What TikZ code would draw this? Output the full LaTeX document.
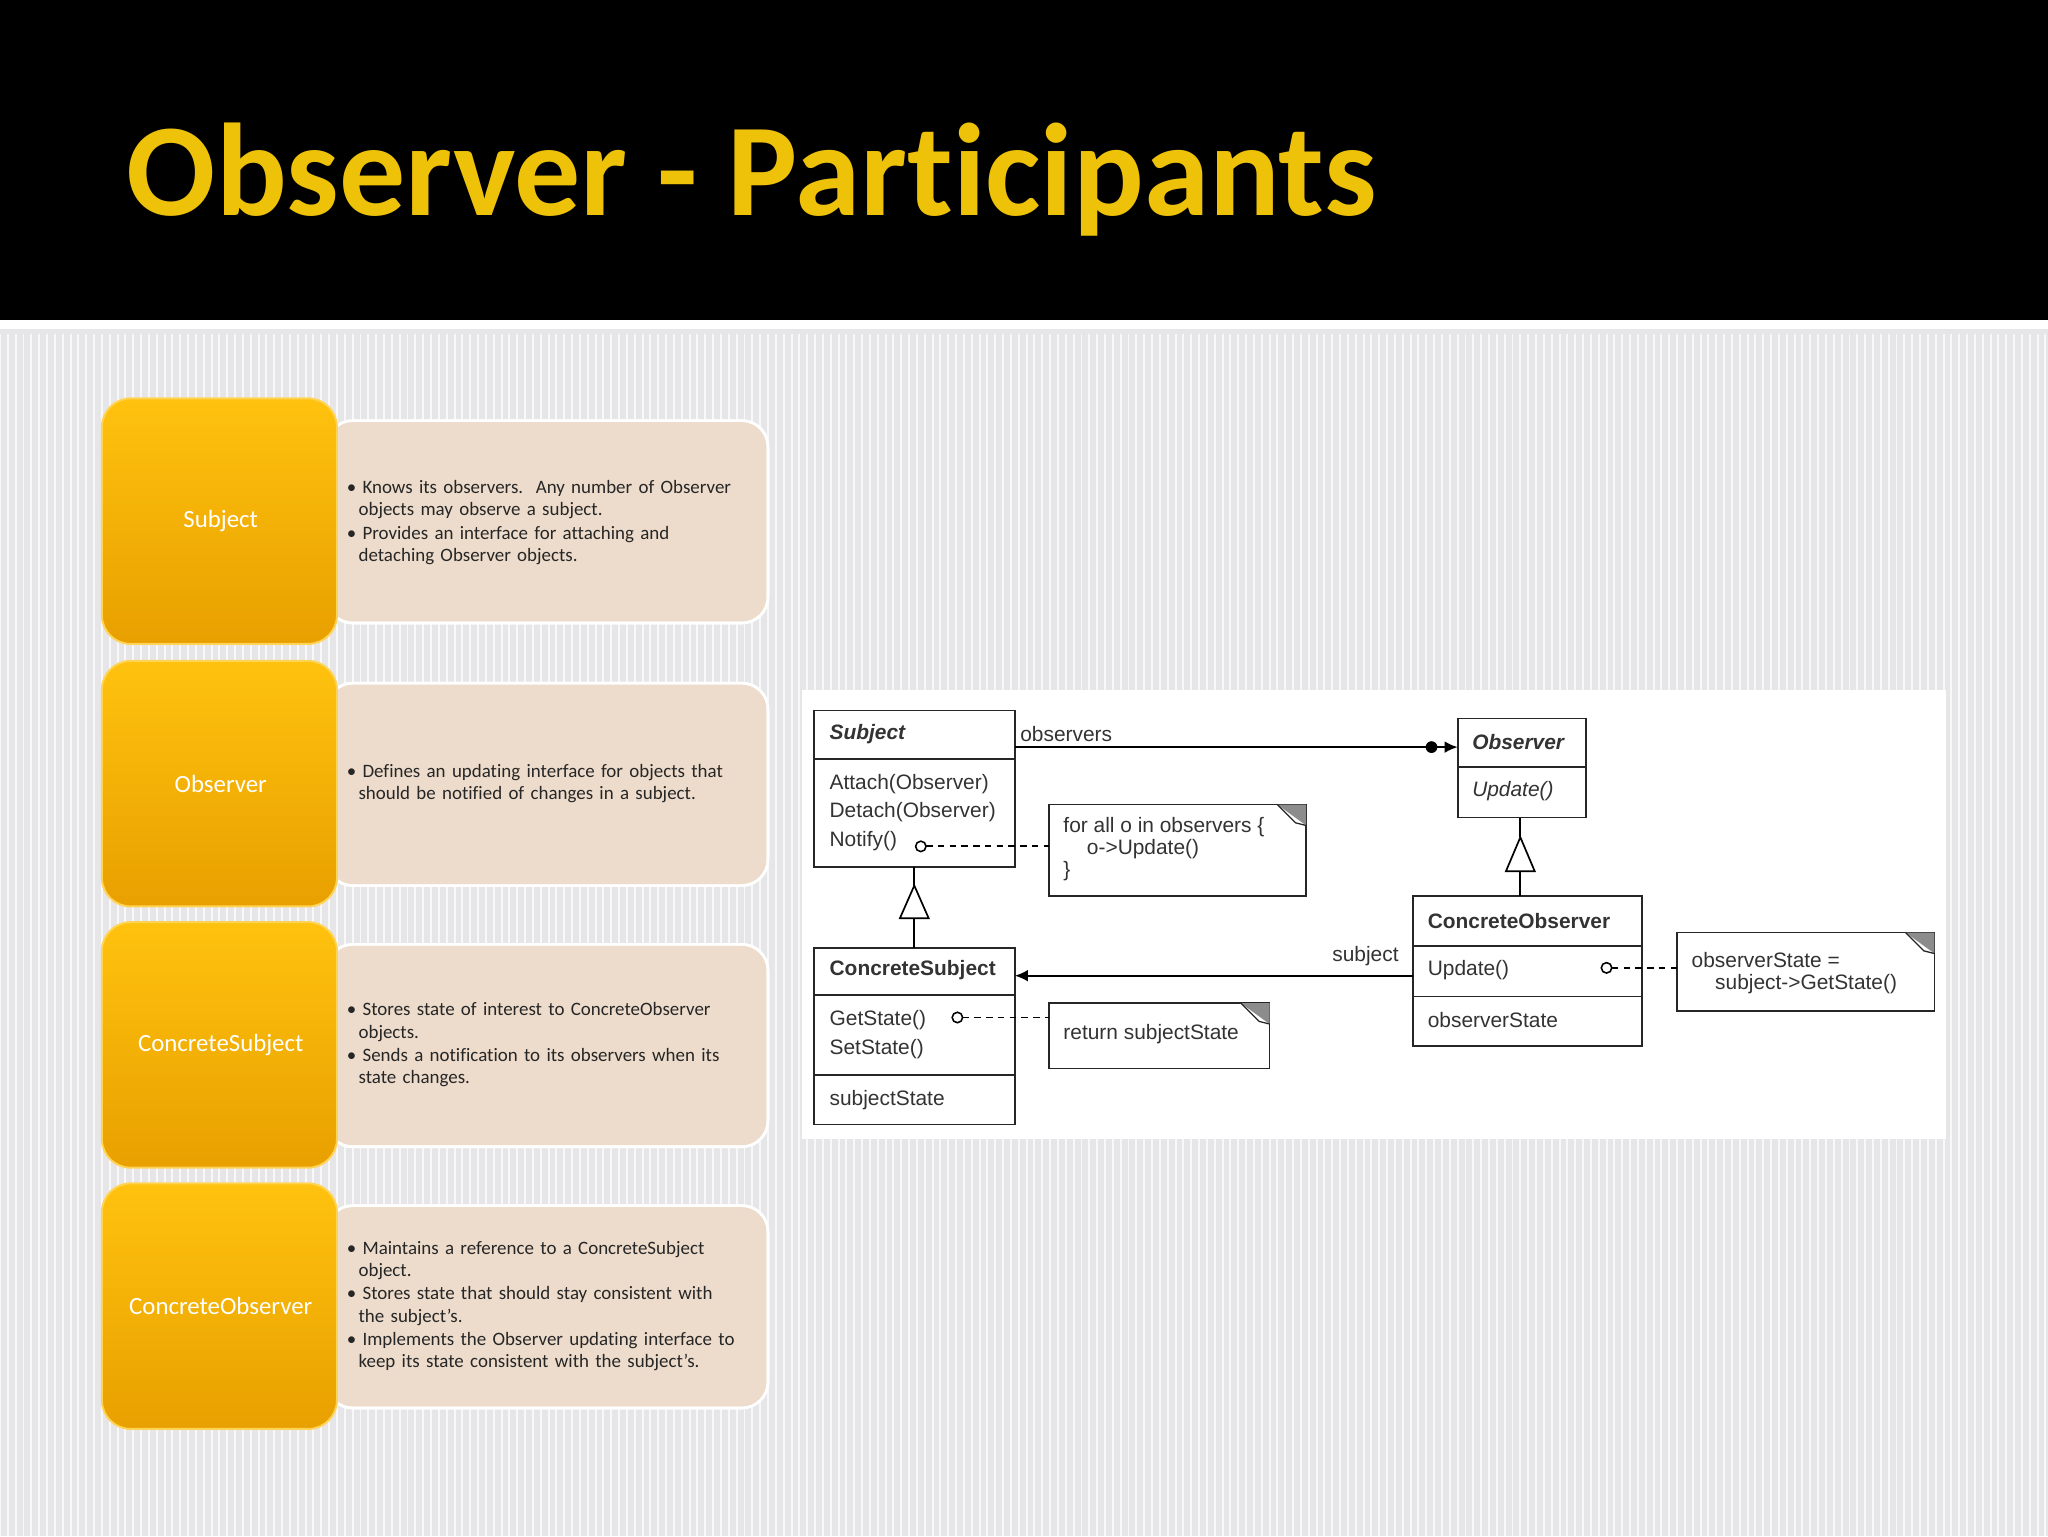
\documentclass[tikz,border=0pt]{standalone}
\usepackage{fontspec}
\setmainfont{Carlito}[Ligatures={NoCommon}]
\newfontfamily\umlf{Liberation Sans}
\usetikzlibrary{arrows.meta,calc}
\definecolor{hdr}{HTML}{000000}
\definecolor{ttl}{HTML}{EFC20A}
\definecolor{bgg}{HTML}{E6E6E8}
\definecolor{orT}{HTML}{FFC20E}
\definecolor{orB}{HTML}{E8A000}
\definecolor{beige}{HTML}{EDDCCB}
\tikzset{
  obox/.style={rounded corners=22pt,top color=orT,bottom color=orB,draw=orT!70!white,line width=1.5pt,text=white,font=\fontsize{19}{22}\selectfont},
  bbox/.style={rounded corners=20pt,fill=beige,draw=white,line width=2pt},
  btxt/.style={anchor=west,align=left,text width=310pt,font=\fontsize{14.5}{17}\selectfont,text=black!85},
  uml/.style={draw=black!85,line width=1.3pt,fill=white},
  ut/.style={anchor=west,font=\umlf\fontsize{16}{22}\selectfont,text=black!80,inner sep=0pt},
  dsh/.style={line width=1.4pt,dash pattern=on 5pt off 4pt},
}
\begin{document}
\begin{tikzpicture}[x=1pt,y=-1pt]
\useasboundingbox (0,0) rectangle (1568,1176);
\fill[bgg] (0,250) rectangle (1568,1176);
\foreach \i in {0,6,...,1566} \draw[white!70!bgg,line width=1.5pt] (\i,256)--(\i,1176);
\fill[hdr] (0,0) rectangle (1568,245);
\fill[white] (0,245) rectangle (1568,252);
\node[anchor=base west,inner sep=0pt,text=ttl,font=\bfseries\fontsize{101}{110}\selectfont] (title) at (97,165) {Observer - Participants};
% rows
\foreach \y/\n [count=\k] in {305/Subject,506/Observer,706/ConcreteSubject,906/ConcreteObserver}{
  \fill[bbox] (250,\y+17) rectangle (588,\y+172);
  \draw[bbox,fill=none] (250,\y+17) rectangle (588,\y+172);
  \draw[obox] (78,\y) rectangle (258,\y+188);
  \node[text=white,font=\fontsize{19}{22}\selectfont] (lab\k) at (169,\y+94) {\n};
}
\node[btxt] (t1) at (262,400) {\textbullet\ Knows its observers.\ \ Any number of Observer\\\hspace*{9pt}objects may observe a subject.\\[1pt]\textbullet\ Provides an interface for attaching and\\\hspace*{9pt}detaching Observer objects.};
\node[btxt] (t2) at (262,600) {\textbullet\ Defines an updating interface for objects that\\\hspace*{9pt}should be notified of changes in a subject.};
\node[btxt] (t3) at (262,800) {\textbullet\ Stores state of interest to ConcreteObserver\\\hspace*{9pt}objects.\\[1pt]\textbullet\ Sends a notification to its observers when its\\\hspace*{9pt}state changes.};
\node[btxt] (t4) at (262,1000) {\textbullet\ Maintains a reference to a ConcreteSubject\\\hspace*{9pt}object.\\[1pt]\textbullet\ Stores state that should stay consistent with\\\hspace*{9pt}the subject's.\\[1pt]\textbullet\ Implements the Observer updating interface to\\\hspace*{9pt}keep its state consistent with the subject's.};
% UML panel
\fill[white] (614,528) rectangle (1490,872);
% Subject
\draw[uml] (623,544) rectangle (777,664); \draw[uml] (623,581)--(777,581);
\node[ut,font=\umlf\bfseries\itshape\fontsize{16}{20}\selectfont] (subj) at (635,562) {Subject};
\node[ut] (att) at (635,600) {Attach(Observer)};
\node[ut] (det) at (635,622) {Detach(Observer)};
\node[ut] (ntf) at (635,644) {Notify()};
% Observer
\draw[uml] (1116,550) rectangle (1214,626); \draw[uml] (1116,587)--(1214,587);
\node[ut,font=\umlf\bfseries\itshape\fontsize{16}{20}\selectfont] (obs) at (1127,568) {Observer};
\node[ut,font=\umlf\itshape\fontsize{16}{20}\selectfont] (upd) at (1127,606) {Update()};
% ConcreteSubject
\draw[uml] (623,726) rectangle (777,861); \draw[uml] (623,762)--(777,762); \draw[uml] (623,823)--(777,823);
\node[ut,font=\umlf\bfseries\fontsize{16}{20}\selectfont] (cs) at (635,743) {ConcreteSubject};
\node[ut] (gs) at (635,781) {GetState()};
\node[ut] (ss) at (635,803) {SetState()};
\node[ut] (sst) at (635,842) {subjectState};
% ConcreteObserver
\draw[uml] (1082,686) rectangle (1257,801); \draw[uml] (1082,724)--(1257,724); \draw[uml] (1082,763)--(1257,763);
\node[ut,font=\umlf\bfseries\fontsize{16}{20}\selectfont] (co) at (1093,705) {ConcreteObserver};
\node[ut] (cu) at (1093,743) {Update()};
\node[ut] (ost) at (1093,781) {observerState};
% notes
\foreach \a/\b/\c/\d in {803/616/1000/686, 803/768/972/818, 1284/714/1481/774}{
  \draw[uml] (\a,\b) rectangle (\c,\d);
  \fill[black!45] (\c-22,\b) -- (\c,\b) -- (\c,\b+16) -- cycle;
  \draw[black!85,line width=1pt] (\c-22,\b) -- (\c-8,\b+14) -- (\c,\b+16);
}
\node[ut,align=left,font=\umlf\fontsize{16}{17}\selectfont] (n1) at (814,650) {for all o in observers \{\\\hspace*{18pt}o->Update()\\\}};
\node[ut] (n2) at (814,792) {return subjectState};
\node[ut,align=left,font=\umlf\fontsize{16}{17}\selectfont] (n3) at (1295,745) {observerState =\\\hspace*{18pt}subject->GetState()};
% connectors
\coordinate (a1) at (777,572); \coordinate (a2) at (1116,572);
\draw[line width=1.3pt,-{Latex[length=10pt,width=9pt]}] (a1) -- (a2);
\fill (1096,572) circle (4.5pt);
\node[ut] (lobs) at (781,562) {observers};
\coordinate (b1) at (1082,747); \coordinate (b2) at (777,747);
\draw[line width=1.3pt,-{Latex[length=10pt,width=9pt]}] (b1) -- (b2);
\node[ut,anchor=east] (lsub) at (1071,732) {subject};
% generalizations
\coordinate (g1) at (700,726); \coordinate (g2) at (700,664);
\draw[line width=1.3pt] (g1) -- (700,703); \draw[line width=1.3pt] (700,678) -- (g2);
\draw[line width=1.3pt,fill=white] (700,678) -- (689,703) -- (711,703) -- cycle;
\coordinate (h1) at (1164,686); \coordinate (h2) at (1164,626);
\draw[line width=1.3pt] (h1) -- (1164,667); \draw[line width=1.3pt] (1164,641) -- (h2);
\draw[line width=1.3pt,fill=white] (1164,641) -- (1153,667) -- (1175,667) -- cycle;
% dashed note links
\draw[line width=1.2pt] (705,648) circle (4pt);
\draw[dsh] (709,648) -- (803,648);
\draw[line width=1.2pt] (733,779) circle (4pt);
\draw[dsh] (737,779) -- (803,779);
\draw[line width=1.2pt] (1230,741) circle (4pt);
\draw[dsh] (1234,741) -- (1284,741);
\end{tikzpicture}
\end{document}
